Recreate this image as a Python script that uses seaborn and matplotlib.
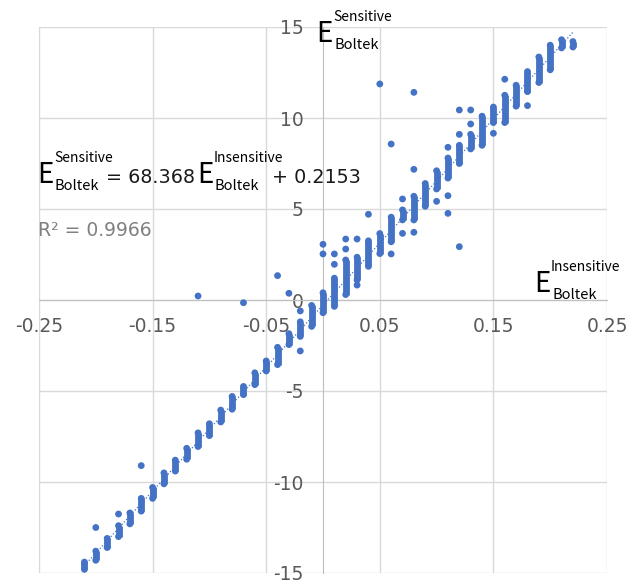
import matplotlib
matplotlib.use("Agg")
import matplotlib.pyplot as plt
import seaborn as sns
import numpy as np
import pandas as pd

# strips of overlapping points: x value, lowest and highest point in the strip
strip_x = [-0.21, -0.20, -0.19, -0.18, -0.17, -0.16, -0.15, -0.14, -0.13, -0.12,
           -0.11, -0.10, -0.09, -0.08, -0.07, -0.06, -0.05, -0.04, -0.03, -0.02,
           -0.01, 0.00, 0.01, 0.02, 0.03, 0.04, 0.05, 0.06, 0.07, 0.08,
           0.09, 0.10, 0.11, 0.12, 0.13, 0.14, 0.15, 0.16, 0.17, 0.18,
           0.19, 0.20, 0.21, 0.22]
strip_low = [-14.8, -14.3, -13.6, -13.0, -12.3, -11.6, -10.9, -10.1, -9.4, -8.75,
             -8.05, -7.45, -6.7, -6.0, -5.2, -4.65, -3.9, -3.55, -2.45, -2.0,
             -1.45, -0.7, -0.35, 0.3, 1.1, 1.85, 2.55, 3.2, 4.4, 4.4,
             5.15, 6.1, 6.7, 7.5, 8.3, 8.5, 9.75, 9.75, 10.65, 11.45,
             11.95, 12.65, 13.85, 13.9]
strip_high = [-14.4, -13.8, -13.1, -12.4, -11.7, -10.9, -10.3, -9.5, -8.8, -8.15,
              -7.3, -6.8, -6.05, -5.3, -4.75, -4.0, -3.35, -2.6, -1.85, -1.2,
              -0.3, 0.4, 1.2, 2.2, 2.35, 3.25, 3.65, 4.55, 4.95, 5.7,
              6.4, 7.1, 7.8, 8.5, 9.1, 10.1, 10.6, 11.25, 11.8, 12.55,
              13.35, 14.0, 14.3, 14.2]

# isolated points
single_x = [-0.20, -0.18, -0.16, -0.11, -0.07, -0.04, -0.03, -0.02, -0.02,
            0.00, 0.00, 0.01, 0.01, 0.02, 0.02, 0.03, 0.03, 0.04, 0.05,
            0.06, 0.06, 0.07, 0.07, 0.08, 0.08, 0.08, 0.10, 0.11, 0.11, 0.11,
            0.12, 0.12, 0.12, 0.13, 0.13, 0.15, 0.16, 0.18]
single_y = [-12.5, -11.76, -9.1, 0.22, -0.15, 1.34, 0.37, -0.6, -2.8,
            3.06, 2.53, 2.53, 1.96, 3.35, 2.80, 3.35, 0.82, 4.71, 11.87,
            8.57, 2.53, 5.55, 3.66, 11.41, 7.18, 3.72, 5.42, 8.39, 5.73, 4.76,
            10.44, 9.1, 2.93, 10.44, 9.67, 9.16, 12.13, 10.68]

x_ticks = [-0.25, -0.15, -0.05, 0.05, 0.15, 0.25]
x_labels = ["-0.25", "-0.15", "-0.05", "0.05", "0.15", "0.25"]
y_ticks = [-15, -10, -5, 0, 5, 10, 15]
y_labels = ["-15", "-10", "-5", "0", "5", "10", "15"]

blue = "#4472C4"
W, H = 643, 581
label_font = ['Noto Sans CJK JP', 'DejaVu Sans']

sns.set_style("white")
plt.rcParams['font.family'] = ['DejaVu Sans']

fig = plt.figure(figsize=(W / 100, H / 100), dpi=100)
ax = fig.add_axes([39 / W, 1 - 573 / H, (607 - 39) / W, (573 - 27) / H])

points = pd.DataFrame({
    'x': list(strip_x) * 2 + single_x,
    'y': strip_low + strip_high + single_y,
})

ax.vlines(strip_x, strip_low, strip_high, color=blue, linewidth=4.9, zorder=3)
sns.scatterplot(data=points, x='x', y='y', ax=ax, color=blue, s=24,
                edgecolor='none', linewidth=0, zorder=3, legend=False)

# linear trendline through the strip centres
mid = (np.array(strip_low) + np.array(strip_high)) / 2
slope, intercept = np.polyfit(strip_x, mid, 1)
tx = np.array([min(strip_x), max(strip_x)])
ax.plot(tx, slope * tx + intercept, color=blue, linestyle=(0, (1, 1.6)),
        linewidth=0.9, zorder=4)

ax.set_xlim(-0.25, 0.25)
ax.set_ylim(-15, 15)
ax.set_xticks(x_ticks)
ax.set_xticklabels(x_labels)
ax.set_yticks(y_ticks)
ax.set_yticklabels(y_labels)
ax.grid(True, color='#d9d9d9', linewidth=1.0)
ax.set_xlabel('')
ax.set_ylabel('')

for side in ['top', 'right']:
    ax.spines[side].set_visible(False)
ax.spines['left'].set_position(('data', 0))
ax.spines['bottom'].set_position(('data', 0))
ax.spines['left'].set_color('#bfbfbf')
ax.spines['bottom'].set_color('#bfbfbf')
ax.tick_params(axis='both', length=0, labelsize=13.5, labelcolor='#595959')
ax.tick_params(axis='x', pad=12)
ax.tick_params(axis='y', pad=14)


def ptext(px, py, s, **kw):
    fig.text(px / W, 1 - py / H, s, va='baseline', ha='left', **kw)


def e_label(px, py, sup, sub):
    ptext(px - 2, py, "E", fontsize=20, color='black', family=label_font)
    ptext(px + 15, py - 21, sup, fontsize=10, color='black', family=label_font)
    ptext(px + 16, py + 7, sub, fontsize=10.5, color='black', family=label_font)


# axis titles
e_label(318, 42, "Sensitive", "Boltek")
e_label(536, 292, "Insensitive", "Boltek")

# trendline equation
e_label(39, 183, "Sensitive", "Boltek")
ptext(106, 183, "= 68.368", fontsize=13.8, color='#1a1a1a')
e_label(199, 183, "Insensitive", "Boltek")
ptext(272, 183, "+ 0.2153", fontsize=13.8, color='#1a1a1a')
ptext(38, 236, "R² = 0.9966", fontsize=13.5, color='#808080')

fig.savefig("out.png", dpi=100)
